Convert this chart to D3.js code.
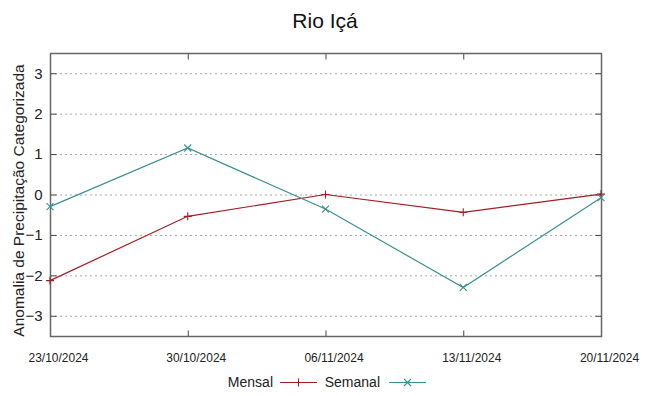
<!DOCTYPE html>
<html><head><meta charset="utf-8">
<script src="https://cdn.jsdelivr.net/npm/d3@7"></script>
<style>body{margin:0;background:#fff}svg{display:block}</style>
</head><body>
<svg id="c" width="649" height="396"></svg>
<script>
const title = "Rio Içá";
const dates = ["23/10/2024","30/10/2024","06/11/2024","13/11/2024","20/11/2024"];
const mensal = [-2.13, -0.54, 0.0, -0.44, 0.01];
const semanal = [-0.30, 1.15, -0.36, -2.30, -0.08];
const yTicks = [-3,-2,-1,0,1,2,3];
const yLabel = "Anomalia de Precipitação Categorizada";
const seriesNames = ["Mensal","Semanal"];
const colors = ["#a51d24","#3a9191"];

const svg = d3.select("#c");
const L=50, R=601, T=53, B=336;
const parse = d3.timeParse("%d/%m/%Y");
const dd = dates.map(parse);
const x = d3.scaleTime().domain([dd[0], dd[dd.length-1]]).range([L,R]);
const y = d3.scaleLinear().domain([-3.5,3.5]).range([B,T]);
const font = "Liberation Sans, Arial, sans-serif";

// grid
svg.append("g").selectAll("line").data(yTicks).join("line")
  .attr("x1",L).attr("x2",R).attr("y1",d=>y(d)+0.5).attr("y2",d=>y(d)+0.5)
  .attr("stroke","#a8a8a8").attr("stroke-width",1).attr("stroke-dasharray","2,3");

// axes with inward ticks
const gL = svg.append("g").attr("transform",`translate(${L+0.5},0)`)
  .call(d3.axisLeft(y).tickValues(yTicks).tickSize(-6).tickPadding(8).tickFormat(d3.format("d")));
const gR = svg.append("g").attr("transform",`translate(${R+0.5},0)`)
  .call(d3.axisRight(y).tickValues(yTicks).tickSize(-6).tickFormat(""));
const gB = svg.append("g").attr("transform",`translate(0,${B+0.5})`)
  .call(d3.axisBottom(x).tickValues(dd).tickSize(-6).tickPadding(15).tickFormat((d,i)=>dates[i]));
const gT = svg.append("g").attr("transform",`translate(0,${T+0.5})`)
  .call(d3.axisTop(x).tickValues(dd).tickSize(-6).tickFormat(""));
[gL,gR,gB,gT].forEach(g=>{
  g.select(".domain").remove();
  g.selectAll(".tick line").attr("stroke","#444");
});
gL.selectAll("text").attr("font-family",font).attr("font-size",15).attr("fill","#222");
gB.selectAll("text").attr("font-family",font).attr("font-size",12).attr("fill","#222")
  .attr("transform","translate(8,0) scale(1,1.1)");

svg.append("rect").attr("x",L+0.5).attr("y",T+0.5).attr("width",R-L).attr("height",B-T)
  .attr("fill","none").attr("stroke","#666").attr("stroke-width",1.5);

// series
const line = d3.line().x((d,i)=>x(dd[i])).y(d=>y(d));
const data=[mensal,semanal];
data.forEach((s,k)=>{
  svg.append("path").datum(s).attr("d",line).attr("fill","none")
    .attr("stroke",colors[k]).attr("stroke-width",1.2);
  svg.append("g").selectAll("path").data(s).join("path")
    .attr("transform",(d,i)=>`translate(${x(dd[i])},${y(d)})`)
    .attr("d", k===0 ? "M-4,0H4M0,-4V4" : "M-3.5,-3.5L3.5,3.5M-3.5,3.5L3.5,-3.5")
    .attr("stroke",colors[k]).attr("stroke-width",1.1).attr("fill","none");
});

// title
svg.append("text").attr("x",325).attr("y",28).attr("text-anchor","middle")
  .attr("font-family",font).attr("font-size",21).attr("fill","#111").text(title);
// y label
svg.append("text").attr("transform",`translate(24,${(T+B)/2+6}) rotate(-90)`).attr("text-anchor","middle")
  .attr("font-family",font).attr("font-size",15.5).attr("fill","#222").text(yLabel);

// legend
const leg = [{t:seriesNames[0],tx:273,l1:280,l2:317},{t:seriesNames[1],tx:380,l1:389,l2:426}];
leg.forEach((o,k)=>{
  svg.append("text").attr("x",o.tx).attr("y",387).attr("text-anchor","end")
    .attr("font-family",font).attr("font-size",14).attr("fill","#222").text(o.t);
  svg.append("line").attr("x1",o.l1).attr("x2",o.l2).attr("y1",382.5).attr("y2",382.5)
    .attr("stroke",colors[k]).attr("stroke-width",1.2);
  const cx=(o.l1+o.l2)/2;
  svg.append("path").attr("transform",`translate(${cx},382.5)`)
    .attr("d", k===0 ? "M-4,0H4M0,-4V4" : "M-3.5,-3.5L3.5,3.5M-3.5,3.5L3.5,-3.5")
    .attr("stroke",colors[k]).attr("stroke-width",1.1);
});
</script>
</body></html>
